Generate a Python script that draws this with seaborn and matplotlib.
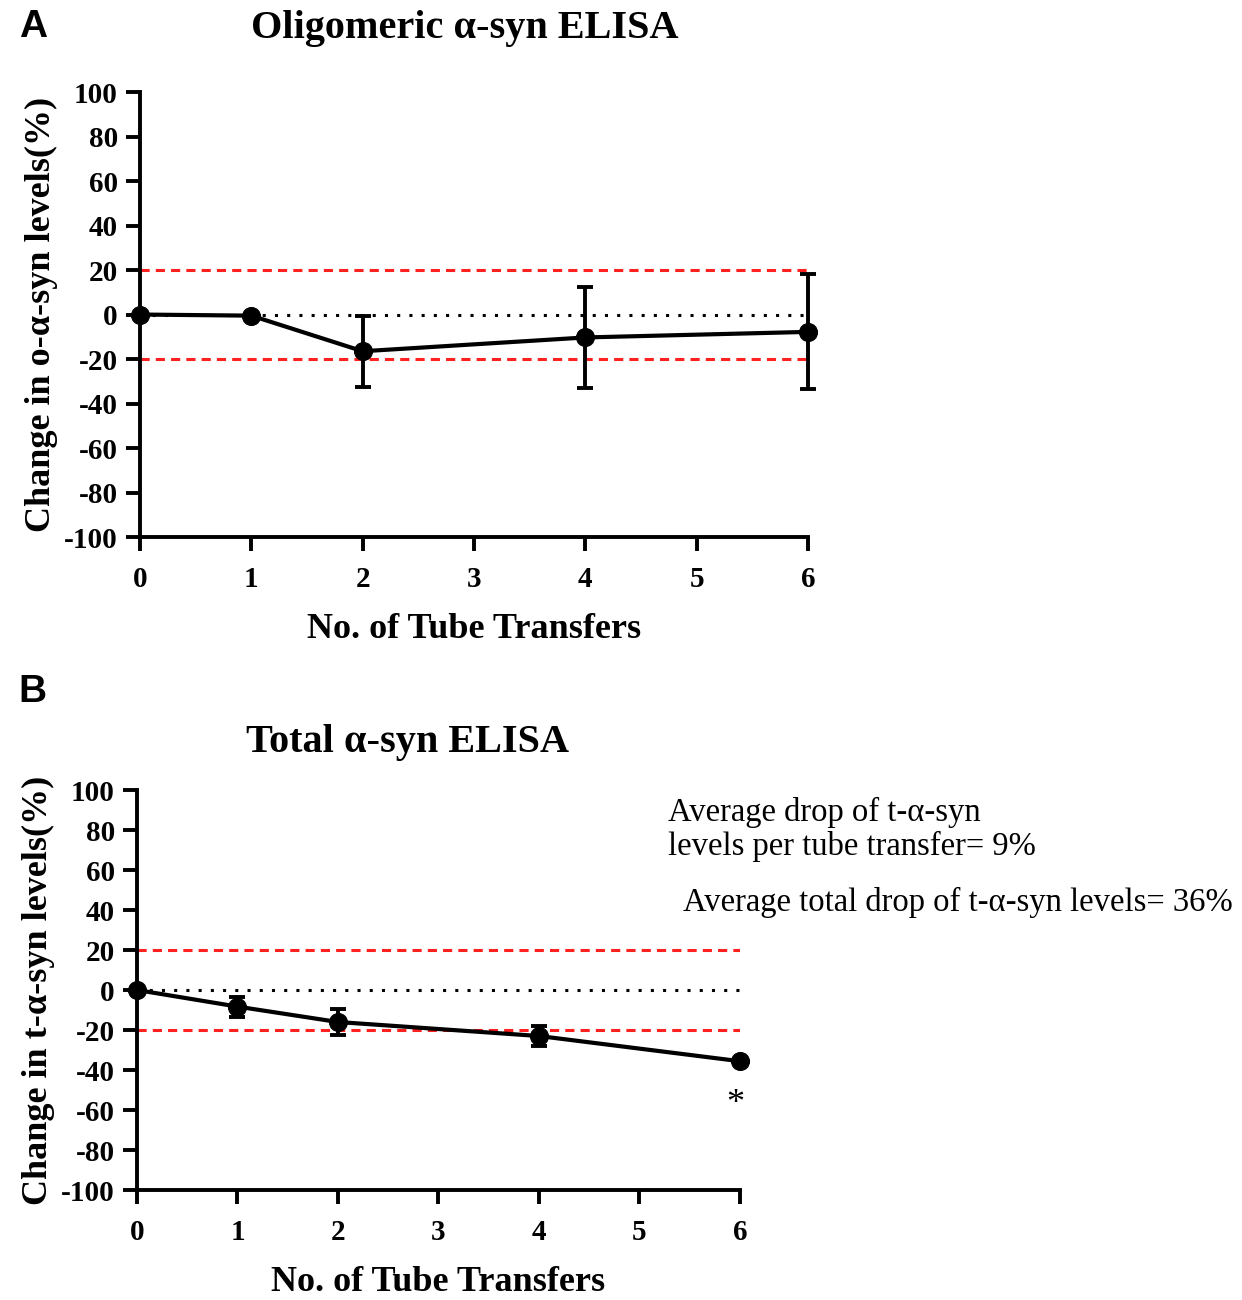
import numpy as np
import pandas as pd
import seaborn as sns
import matplotlib.pyplot as plt

# values
transfers = [0, 1, 2, 4, 6]
oligo_mean = [0, -0.5, -16.5, -10.3, -7.8]
oligo_err = [0, 0, 16, 22.5, 25.8]
total_mean = [0, -8.3, -16, -23, -35.6]
total_err = [0, 5, 6.7, 5.2, 0]
y_ticks = list(range(-100, 101, 20))
x_ticks = [0, 1, 2, 3, 4, 5, 6]

sns.set_theme(style="ticks")
plt.rcParams['font.family'] = ['Liberation Serif', 'DejaVu Serif']
plt.rcParams['font.weight'] = 'bold'
plt.rcParams['axes.unicode_minus'] = False
plt.rcParams['text.color'] = 'black'
plt.rcParams['axes.labelcolor'] = 'black'
plt.rcParams['xtick.color'] = 'black'
plt.rcParams['ytick.color'] = 'black'
plt.rcParams['axes.edgecolor'] = 'black'

fig = plt.figure(figsize=(12.42, 13), dpi=100)
axA = fig.add_axes([0.1127, 0.5869, 0.5379, 0.3423])
axB = fig.add_axes([0.1103, 0.0846, 0.4855, 0.3077])


def draw_panel(ax, mean, err, ylabel):
    df = pd.DataFrame({"x": transfers, "y": mean})
    ax.axhline(20, color="#ff2020", ls=(0, (3, 2)), lw=2.2, zorder=1)
    ax.axhline(-20, color="#ff2020", ls=(0, (3, 2)), lw=2.2, zorder=1)
    ax.axhline(0, color="black", ls=(0, (1, 3)), lw=2.2, zorder=1)
    ax.errorbar(transfers, mean, yerr=err, fmt="none", ecolor="black",
                elinewidth=2.8, capsize=6, capthick=2.8, zorder=2, clip_on=False)
    sns.lineplot(data=df, x="x", y="y", ax=ax, color="black", lw=3,
                 marker="o", markersize=13, markeredgecolor="black", zorder=3,
                 clip_on=False)
    ax.set_xlim(0, 6)
    ax.set_ylim(-100, 100)
    ax.set_yticks(y_ticks)
    ax.set_xticks(x_ticks)
    ax.tick_params(width=2.8, length=10, labelsize=21, pad=6)
    ax.tick_params(axis="x", pad=11)
    for lab in ax.get_xticklabels() + ax.get_yticklabels():
        lab.set_fontweight("bold")
    for s in ["left", "bottom"]:
        ax.spines[s].set_linewidth(2.8)
    sns.despine(ax=ax)
    ax.set_xlabel("No. of Tube Transfers", fontsize=26, fontweight="bold", labelpad=14)
    ax.set_ylabel(ylabel, fontsize=26, fontweight="bold", labelpad=4)


draw_panel(axA, oligo_mean, oligo_err, "Change in o-\u03b1-syn levels(%)")
draw_panel(axB, total_mean, total_err, "Change in t-\u03b1-syn levels(%)")

fig.text(0.3744, 0.978, "Oligomeric \u03b1-syn ELISA", fontsize=29, fontweight="bold",
         ha="center", va="center")
fig.text(0.328, 0.429, "Total \u03b1-syn ELISA", fontsize=29, fontweight="bold",
         ha="center", va="center")
fig.text(0.015, 0.979, "A", fontsize=28, fontweight="bold", family="Liberation Sans",
         ha="left", va="center")
fig.text(0.015, 0.468, "B", fontsize=28, fontweight="bold", family="Liberation Sans",
         ha="left", va="center")

axB.text(5.95, -57, "*", fontsize=26, ha="center", va="center", fontweight="normal")
fig.text(0.538, 0.362, "Average drop of t-\u03b1-syn\nlevels per tube transfer= 9%",
         fontsize=23.5, fontweight="normal", ha="left", va="center", linespacing=1.15)
fig.text(0.550, 0.306, "Average total drop of t-\u03b1-syn levels= 36%",
         fontsize=23.5, fontweight="normal", ha="left", va="center")

fig.savefig("out.png", dpi=100)
